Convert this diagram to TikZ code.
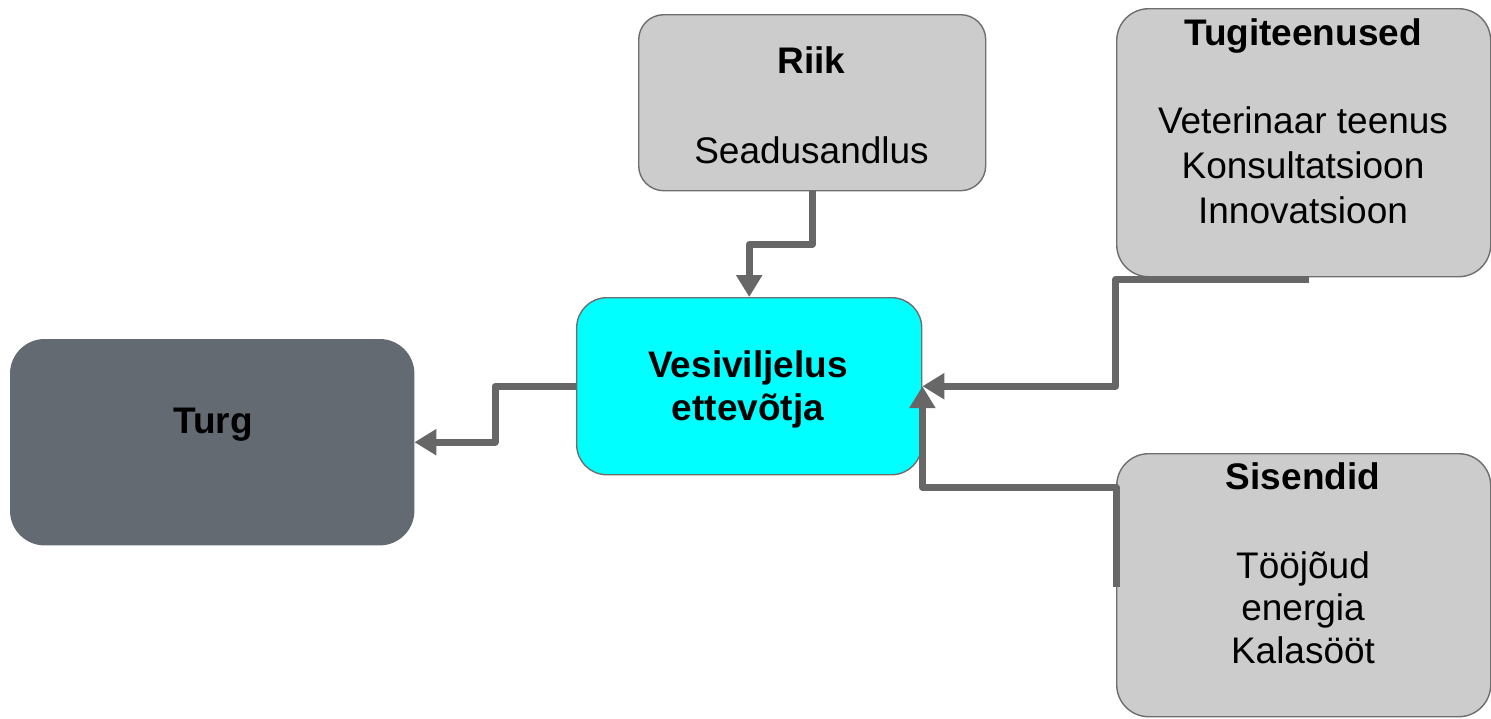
\documentclass[tikz,border=0pt]{standalone}
\usepackage{fontspec}
\setmainfont{Liberation Sans}
\usetikzlibrary{arrows.meta,positioning}
\definecolor{boxgray}{HTML}{CCCCCC}
\definecolor{edgegray}{HTML}{6E6E6E}
\definecolor{linkgray}{HTML}{676767}
\definecolor{turggray}{HTML}{646A72}
\definecolor{vesicyan}{HTML}{00FFFF}

\begin{document}
\begin{tikzpicture}[x=0.5pt, y=-0.5pt,
        box/.style = {draw=edgegray, line width=0.7pt, rounded corners=16pt, anchor=north west, inner sep=0pt},
        txt/.style = {font=\fontsize{18.5pt}{19.5pt}\selectfont, align=center, inner sep=0pt, anchor=base},
        link/.style = {draw=linkgray, line width=3.5pt, line join=round, -{Triangle[length=11pt,width=12.5pt]}}]

        \useasboundingbox (0,0) rectangle (1491,718);

        % Kastid
        \node[box, fill=boxgray, minimum width=173.5pt, minimum height=88pt, rounded corners=12.5pt] (riik) at (638,14) {};
        \node[box, fill=boxgray, minimum width=187pt, minimum height=134pt] (tugi) at (1116,8) {};
        \node[box, fill=vesicyan, minimum width=172.5pt, minimum height=88.5pt, rounded corners=15pt] (vesi) at (576,297) {};
        \node[box, fill=turggray, draw=turggray, minimum width=201.5pt, minimum height=102.5pt, rounded corners=17pt] (turg) at (10,339) {};
        \node[box, fill=boxgray, minimum width=187pt, minimum height=131.5pt] (sise) at (1116,453) {};

        % Tekstid (base = viimase rea alusjoon)
        \node[txt] (riik-t) at (811.5,73) {\textbf{Riik}};
        \node[txt] (riik-s) at (811.5,163) {Seadusandlus};
        \node[txt] (tugi-t) at (1303,45) {\textbf{Tugiteenused}};
        \node[txt] (tugi-s) at (1303,223) {Veterinaar teenus\\[3pt]Konsultatsioon\\[3pt]Innovatsioon};
        \node[txt] (vesi-t) at (748,420) {\textbf{Vesiviljelus}\\[2pt]\textbf{ettevõtja}};
        \node[txt] (turg-t) at (213,433) {\textbf{Turg}};
        \node[txt] (sise-t) at (1303,489) {\textbf{Sisendid}};
        \node[txt] (sise-s) at (1303,663) {Tööjõud\\[1.75pt]energia\\[1.75pt]Kalasööt};

        % Riik -> ettevõtja
        \draw[link] (riik.south) -- ++(0,53) -| (vesi.north);
        % ettevõtja -> Turg
        \draw[link] (vesi.west) -- ++(-81,0) |- (turg.east);
        % Tugiteenused -> ettevõtja
        \draw[link] ([xshift=2.5pt,yshift=-1pt]tugi.south) -- ++(-193,0) |- (vesi.east);
        % Sisendid -> ettevõtja
        \draw[link] ([yshift=-1pt]sise.west) -- ++(0,-100) -| (vesi.east);
    \end{tikzpicture}
\end{document}
